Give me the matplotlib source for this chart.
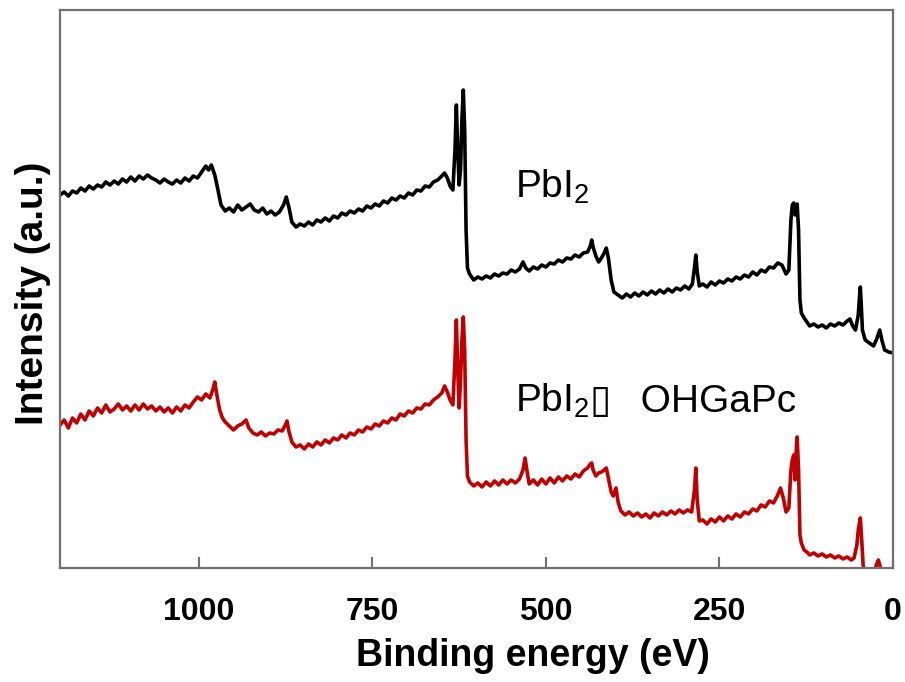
import numpy as np
import matplotlib.pyplot as plt

# binding energy (eV) and intensity (a.u.)
energy_pbi2 = [1200, 1194, 1188, 1182, 1176, 1170, 1164, 1158, 1152, 1146, 1140, 1134, 1128, 1122, 1116,
               1110, 1104, 1098, 1092, 1086, 1080, 1074, 1068, 1062, 1056, 1050, 1044, 1038, 1032, 1026,
               1020, 1014, 1008, 1002, 996, 990, 986, 982, 977, 973, 968, 962, 956, 950, 944, 938, 932,
               926, 920, 914, 908, 902, 896, 890, 884, 878, 874, 870, 866, 860, 854, 848, 842, 836, 830,
               824, 818, 812, 806, 800, 794, 788, 782, 776, 770, 764, 758, 752, 746, 740, 734, 728, 722,
               716, 710, 704, 698, 692, 686, 680, 674, 668, 662, 656, 650, 646, 642, 638, 634, 631, 629,
               627, 625, 623, 621, 619, 617, 615, 613, 610, 604, 598, 592, 586, 580, 574, 568, 562, 556,
               550, 544, 538, 533, 529, 524, 518, 512, 506, 500, 494, 488, 482, 476, 470, 464, 458, 452,
               446, 440, 436, 434, 432, 428, 424, 420, 416, 413, 410, 406, 402, 396, 390, 384, 378, 372,
               366, 360, 354, 348, 342, 336, 330, 324, 318, 312, 306, 300, 294, 289, 286, 284, 282, 279,
               274, 268, 262, 256, 250, 244, 238, 232, 226, 220, 214, 208, 202, 196, 190, 184, 178, 172,
               166, 160, 154, 150, 147, 145, 143, 141, 139, 138, 136, 134, 132, 128, 124, 120, 114, 108,
               102, 96, 90, 84, 78, 72, 66, 62, 58, 54, 50, 48, 47, 46, 44, 40, 34, 28, 24, 19, 16, 12,
               6, 0]
int_pbi2 = [373, 376, 372, 377, 375, 380, 377, 382, 379, 383, 381, 386, 383, 387, 384,
            389, 386, 391, 387, 392, 389, 393, 390, 388, 385, 389, 386, 384, 388, 385,
            390, 387, 392, 390, 396, 402, 398, 403, 393, 380, 363, 357, 360, 356, 363, 358, 361,
            364, 358, 356, 360, 354, 357, 353, 356, 363, 371, 360, 346, 341, 344, 342, 346, 343, 348,
            346, 350, 347, 352, 350, 355, 353, 357, 355, 359, 357, 362, 360, 364, 362, 367, 365, 370,
            368, 372, 370, 375, 373, 378, 377, 382, 381, 386, 388, 392, 395, 390, 382, 378, 418, 463,
            418, 383, 398, 448, 478, 438, 338, 300, 294, 288, 291, 289, 292, 290, 294, 292, 295, 294,
            298, 296, 299, 306, 300, 297, 301, 299, 303, 301, 305, 304, 308, 306, 310, 309, 313, 311,
            315, 316, 322, 328, 321, 312, 306, 310, 315, 320, 310, 288, 276, 273, 270, 274, 271, 275,
            272, 276, 273, 277, 274, 278, 275, 279, 276, 280, 278, 282, 279, 284, 300, 313, 296, 282,
            284, 281, 286, 283, 287, 285, 289, 287, 291, 289, 293, 291, 296, 293, 298, 296, 301, 300,
            305, 303, 294, 298, 348, 363, 365, 353, 362, 364, 338, 268, 255, 250, 246, 242, 244, 241,
            243, 240, 244, 242, 245, 243, 247, 249, 242, 238, 253, 273, 281, 268, 238, 228, 225, 222,
            228, 238, 228, 218, 216, 215]

energy_mix = [1200, 1194, 1188, 1182, 1176, 1170, 1164, 1158, 1152, 1146, 1140, 1134, 1128, 1122, 1116,
              1110, 1104, 1098, 1092, 1086, 1080, 1074, 1068, 1062, 1056, 1050, 1044, 1038, 1032, 1026,
              1020, 1014, 1008, 1002, 996, 990, 984, 980, 977, 974, 970, 966, 962, 956, 950, 944, 938,
              932, 928, 922, 916, 910, 904, 898, 892, 886, 880, 876, 873, 870, 866, 860, 854, 848, 842,
              836, 830, 824, 818, 812, 806, 800, 794, 788, 782, 776, 770, 764, 758, 752, 746, 740, 734,
              728, 722, 716, 710, 704, 698, 692, 686, 680, 674, 668, 662, 656, 650, 646, 642, 638, 634,
              631, 629, 627, 625, 623, 621, 619, 617, 615, 613, 610, 604, 598, 592, 586, 580, 574, 568,
              562, 556, 550, 544, 538, 533, 530, 527, 524, 518, 512, 506, 500, 494, 488, 482, 476, 470,
              464, 458, 452, 446, 440, 436, 434, 432, 428, 424, 420, 416, 413, 410, 406, 403, 399, 396,
              392, 386, 380, 374, 368, 362, 356, 350, 344, 338, 332, 326, 320, 314, 308, 302, 296, 290,
              286, 284, 282, 279, 274, 268, 262, 256, 250, 244, 238, 232, 226, 220, 214, 208, 202, 196,
              190, 184, 178, 172, 166, 162, 158, 154, 150, 147, 145, 143, 141, 139, 138, 136, 134, 132,
              128, 124, 120, 114, 108, 102, 96, 90, 84, 78, 72, 66, 60, 56, 52, 50, 47, 45, 43, 40, 34,
              28, 24, 21, 18, 14, 8, 0]
int_mix = [143, 148, 140, 150, 145, 154, 148, 157, 152, 160, 155, 163, 156, 159, 164,
           158, 162, 157, 163, 158, 164, 159, 162, 157, 161, 156, 160, 155, 161, 157,
           163, 160, 166, 171, 168, 174, 170, 178, 186, 173, 158, 150, 146, 142, 138, 142, 144,
           148, 140, 135, 133, 136, 132, 135, 134, 138, 137, 142, 147, 136, 126, 121, 123, 119, 124,
           121, 126, 123, 128, 125, 130, 128, 133, 130, 135, 133, 138, 136, 141, 139, 144, 142, 147,
           145, 150, 148, 154, 152, 157, 155, 160, 159, 164, 163, 168, 171, 175, 182, 176, 168, 163,
           208, 248, 198, 160, 188, 228, 251, 218, 128, 92, 86, 82, 85, 81, 86, 82, 87, 83,
           88, 84, 88, 85, 89, 98, 110, 96, 84, 88, 83, 89, 84, 90, 85, 91, 87, 92,
           89, 94, 91, 97, 100, 104, 105, 98, 92, 95, 96, 98, 100, 90, 76, 72, 80, 66,
           57, 53, 56, 52, 55, 51, 54, 50, 55, 52, 56, 53, 57, 54, 58, 55, 58, 56,
           78, 100, 68, 47, 48, 44, 49, 46, 51, 47, 52, 49, 54, 51, 56, 54, 59, 57,
           63, 61, 67, 65, 73, 80, 70, 56, 60, 98, 108, 113, 88, 123, 131, 98, 33, 25,
           18, 16, 13, 15, 12, 14, 11, 13, 10, 12, 9, 11, 8, 10, 23, 38, 50, 28, 3, -7, -12,
           -7, 3, 8, 0, -12, -17, -17]

tick_values = [1000, 750, 500, 250, 0]
tick_labels = ['1000', '750', '500', '250', '0']

plt.rcParams['font.family'] = ['Liberation Sans', 'DejaVu Sans']
plt.rcParams['mathtext.fontset'] = 'custom'
plt.rcParams['mathtext.rm'] = 'Liberation Sans'
plt.rcParams['mathtext.default'] = 'regular'

fig = plt.figure(figsize=(9.05, 6.82), dpi=100)
ax = fig.add_axes([0.0663, 0.1672, 0.9204, 0.8181])

ax.plot(energy_pbi2, int_pbi2, color='black', lw=2.6)
ax.plot(energy_mix, int_mix, color='#c00000', lw=2.6)

ax.set_xlim(1200, 0)
ax.set_ylim(0, 558)
ax.set_xticks(tick_values)
ax.set_xticklabels(tick_labels, fontsize=23, fontweight='bold')
ax.set_yticks([])
ax.tick_params(axis='x', direction='in', length=8, width=1.5, color='#707070', pad=21)

for sp in ax.spines.values():
    sp.set_color('#707070')
    sp.set_linewidth(1.6)

ax.set_xlabel('Binding energy (eV)', fontsize=27, fontweight='bold')
ax.xaxis.set_label_coords(0.568, -0.125)
ax.set_ylabel('Intensity (a.u.)', fontsize=28, fontweight='bold')
ax.yaxis.set_label_coords(-0.011, 0.493)

ax.text(544, 370, 'PbI$_2$', fontsize=28, ha='left', va='baseline')
t2 = ax.text(544, 156, 'PbI$_2$', fontsize=28, ha='left', va='baseline')

# rest of the second label goes right after the subscript
fig.canvas.draw()
bb = t2.get_window_extent()
x_end = ax.transData.inverted().transform((bb.x1, 0))[0]
ax.text(x_end, 156, '\u25af  \u2009OHGaPc', fontsize=28, ha='left', va='baseline',
        family=['Liberation Sans', 'DejaVu Sans'])

plt.savefig('out.png', dpi=100)
